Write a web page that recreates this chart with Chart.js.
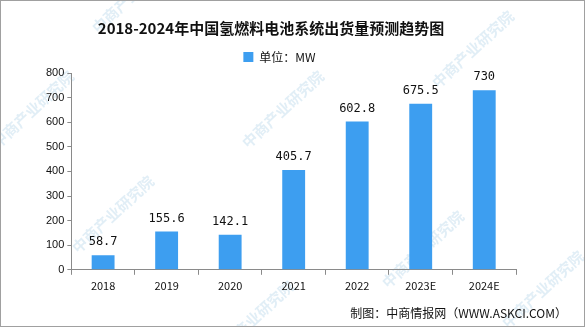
<!DOCTYPE html>
<html>
<head>
<meta charset="utf-8">
<script src="https://cdn.jsdelivr.net/npm/chart.js@4/dist/chart.umd.min.js"></script>
<style>
  html,body{margin:0;padding:0;background:#fff}
  #wrap{width:585px;height:327px;position:relative;box-sizing:border-box;border:1px solid #a0a0a0}
</style>
</head>
<body>
<div id="wrap"><canvas id="c" width="583" height="325"></canvas></div>
<script>
// chart data
const years = ['2018','2019','2020','2021','2022','2023E','2024E'];
const shipments = [58.7, 155.6, 142.1, 405.7, 602.8, 675.5, 730];
const labelsText = ['58.7','155.6','142.1','405.7','602.8','675.5','730'];
const TITLE = '2018-2024年中国氢燃料电池系统出货量预测趋势图';
const FOOT = '制图：中商情报网（WWW.ASKCI.COM）';
const BAR = '#3d9ef0';
const AXIS = '#8a8a8a';
const FONT = '"Noto Sans CJK SC", "DejaVu Sans", sans-serif';

// watermark + title + footer drawn by hand
const deco = {
  id:'deco',
  beforeDraw(chart){
    const ctx = chart.ctx;
    ctx.save();
    ctx.fillStyle = 'rgba(170,205,230,0.35)';
    ctx.font = 'bold 15px ' + FONT;
    const spots = [[30,110],[110,215],[280,110],[250,320],[470,50],[540,290],[130,-5],[420,250]];
    spots.forEach(p=>{
      ctx.save(); ctx.translate(p[0],p[1]); ctx.rotate(-0.75);
      ctx.fillText('中商产业研究院', -50, 0);
      ctx.restore();
    });
    ctx.restore();
  },
  afterDraw(chart){
    const ctx = chart.ctx;
    ctx.save();
    ctx.fillStyle = '#111';
    ctx.textAlign = 'center'; ctx.textBaseline = 'middle';
    ctx.font = 'bold 15px "Noto Sans CJK SC", serif';
    ctx.fillText(TITLE, 270, 27);
    ctx.textAlign = 'right';
    ctx.font = '12px ' + FONT;
    ctx.fillText(FOOT, 566, 312);
    // value labels above bars
    const meta = chart.getDatasetMeta(0);
    ctx.textAlign = 'center';
    ctx.font = '12px "DejaVu Sans Mono", monospace';
    meta.data.forEach((bar,i)=>{
      ctx.fillText(labelsText[i], bar.x, bar.y - 13);
    });
    ctx.restore();
  }
};

new Chart(document.getElementById('c'), {
  type:'bar',
  data:{labels:years, datasets:[{label:'单位：MW', data:shipments, backgroundColor:BAR, barPercentage:0.45, categoryPercentage:0.8}]},
  options:{
    responsive:false, animation:false,
    layout:{padding:{top:47, right:68, bottom:30, left:42}},
    plugins:{
      legend:{display:true, labels:{boxWidth:10, boxHeight:10, color:'#111', font:{size:12, family:FONT}, padding:3}},
      tooltip:{enabled:false}
    },
    scales:{
      x:{
        grid:{display:true, drawOnChartArea:false, offset:true, color:AXIS, tickLength:5},
        border:{color:AXIS},
        ticks:{color:'#111', font:{size:11, family:FONT}, padding:4}
      },
      y:{
        min:0, max:800,
        grid:{display:true, drawOnChartArea:false, color:AXIS, tickLength:4},
        border:{color:AXIS},
        ticks:{stepSize:100, color:'#111', font:{size:11, family:'"Liberation Sans", Arial, sans-serif'}, padding:3}
      }
    }
  },
  plugins:[deco]
});
</script>
</body>
</html>
